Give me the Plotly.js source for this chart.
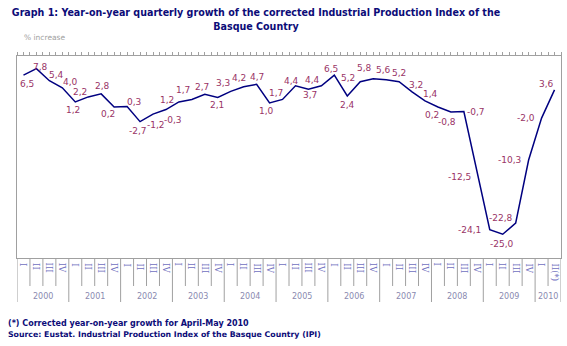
<!DOCTYPE html>
<html>
<head>
<meta charset="utf-8">
<script src="https://cdn.plot.ly/plotly-3.0.1.min.js"></script>
<style>
  html, body { margin: 0; padding: 0; background: #fff; }
  #chart { width: 567px; height: 346px; }
</style>
</head>
<body>
<div id="chart"></div>
<script>
// ---- data ----
const years = ['2000','2001','2002','2003','2004','2005','2006','2007','2008','2009','2010'];
const quartersPerYear = [4,4,4,4,4,4,4,4,4,4,2];
const quarterNames = ['I','II','III','IV'];
const lastQuarterLabel = 'II(*)';
const growth = [6.5, 7.8, 5.4, 4.0,
                1.2, 2.2, 2.8, 0.2,
                0.3, -2.7, -1.2, -0.3,
                1.2, 1.7, 2.7, 2.1,
                3.3, 4.2, 4.7, 1.0,
                1.7, 4.4, 3.7, 4.4,
                6.5, 2.4, 5.2, 5.8,
                5.6, 5.2, 3.2, 1.4,
                0.2, -0.8, -0.7, -12.5,
                -24.1, -25.0, -22.8, -10.3,
                -2.0, 3.6];
const titleText = 'Graph 1: Year-on-year quarterly growth of the corrected Industrial Production Index of the<br>Basque Country';
const yUnitText = '% increase';
const footnote = '(*) Corrected year-on-year growth for April-May 2010';
const sourceText = 'Source: Eustat. Industrial Production Index of the Basque Country (IPI)';

// ---- label offsets (style: pixel shifts of each value label, dx right, dy down) ----
const labelOffsets = [
  [4,9],[4,-2],[7,-6],[8,-6],
  [-2,8],[-8,-5],[1,-8],[-6,7],
  [7,-5],[-2,9],[3,11],[7,10],
  [-12,-2],[-9,-9],[-3,-7],[-1,8],
  [-8,-8],[-5,-9],[0,-7],[-3,8],
  [-7,-6],[-4,-5],[2,6],[-9,-6],
  [-3,-6.5],[0,9.5],[-12,-3.5],[-9,-11],
  [-3,-10],[0,-9],[4,-6.5],[5,-7],
  [-6,7.5],[-4,9.5],[12,0],[-17,6],
  [-20,0],[-1,10],[-15,-5],[-19,0],
  [-16,0],[-8,-6]
];

// ---- build categories ----
const categories = [];
const quarterLabels = [];
const yearStart = [];
years.forEach((y, yi) => {
  yearStart.push(categories.length);
  for (let q = 0; q < quartersPerYear[yi]; q++) {
    categories.push(y + ' ' + quarterNames[q]);
    quarterLabels.push(quarterNames[q]);
  }
});
quarterLabels[quarterLabels.length - 1] = lastQuarterLabel;
const n = categories.length;
const idx = categories.map((c, i) => i);

const plotH = 346 - 56 - 88;
const pxToPaper = px => px / plotH;

const lineColor = '#a0a0a0';
const navy = '#0c0c78';

const traces = [
  {
    x: categories, y: growth, type: 'scatter', mode: 'lines',
    line: { color: '#000080', width: 1.5 },
    hoverinfo: 'skip', showlegend: false
  },
  {
    x: idx, y: growth, xaxis: 'x2', type: 'scatter', mode: 'markers',
    marker: { opacity: 0, size: 1 }, hoverinfo: 'skip', showlegend: false
  }
];

const annotations = [];
growth.forEach((v, i) => {
  annotations.push({
    x: categories[i], y: v, xref: 'x', yref: 'y',
    text: v.toFixed(1).replace('.', ','),
    showarrow: false, xanchor: 'center', yanchor: 'middle',
    xshift: labelOffsets[i][0], yshift: -labelOffsets[i][1],
    font: { family: 'Verdana, DejaVu Sans', size: 9, color: '#993366' }
  });
});
quarterLabels.forEach((q, i) => {
  annotations.push({
    x: i, y: -pxToPaper(3), xref: 'x', yref: 'paper',
    text: q, textangle: 90, showarrow: false,
    xanchor: 'center', yanchor: 'top',
    font: { family: 'DejaVu Serif', size: 8.5, color: '#7070c0' }
  });
});
years.forEach((y, yi) => {
  const c = yearStart[yi] + (quartersPerYear[yi] - 1) / 2;
  annotations.push({
    x: c, y: -pxToPaper(38), xref: 'x', yref: 'paper',
    text: y, showarrow: false, xanchor: 'center', yanchor: 'middle',
    font: { family: 'DejaVu Sans', size: 8, color: '#8a8ab0' }
  });
});
annotations.push({
  x: 22, y: 38, xref: 'paper', yref: 'paper', text: yUnitText, showarrow: false,
  xanchor: 'left', yanchor: 'middle',
  font: { family: 'DejaVu Sans', size: 7.5, color: '#a0a0a0' }
});
annotations.push({
  x: 6, y: 323, text: '<b>' + footnote + '</b>', showarrow: false,
  xanchor: 'left', yanchor: 'middle',
  font: { family: 'DejaVu Sans', size: 8, color: navy }
});
annotations.push({
  x: 6, y: 334, text: '<b>' + sourceText + '</b>', showarrow: false,
  xanchor: 'left', yanchor: 'middle',
  font: { family: 'DejaVu Sans', size: 7.8, color: navy }
});
// convert pixel-placed page texts to paper coordinates
const plotW = 567 - 17 - 6;
annotations.slice(-3).forEach(a => {
  a.xref = 'paper'; a.yref = 'paper';
  a.x = (a.x - 17) / plotW;
  a.y = (346 - 88 - a.y) / plotH;
});

const shapes = [];
for (let k = 0; k <= n; k++) {
  const isYear = yearStart.includes(k) || k === n;
  shapes.push({
    type: 'line', xref: 'x', yref: 'paper',
    x0: k - 0.5, x1: k - 0.5, y0: 0, y1: -pxToPaper(isYear ? 44 : 28),
    line: { color: lineColor, width: 1 }
  });
}

const layout = {
  width: 567, height: 346,
  margin: { l: 17, r: 6, t: 56, b: 88, pad: 0 },
  paper_bgcolor: '#ffffff', plot_bgcolor: '#ffffff',
  showlegend: false,
  title: {
    text: '<b>' + titleText + '</b>',
    x: 256 / 567, xanchor: 'center', xref: 'container',
    y: 1 - 16 / 346, yanchor: 'top', yref: 'container',
    font: { family: 'DejaVu Sans Condensed, DejaVu Sans', size: 10.6, color: navy }
  },
  xaxis: {
    type: 'category', range: [-0.5, n - 0.5],
    showline: true, linecolor: lineColor, linewidth: 1, mirror: false,
    showgrid: false, zeroline: false, showticklabels: false, ticks: '',
    fixedrange: true
  },
  xaxis2: {
    overlaying: 'x', side: 'top', anchor: 'y', type: 'linear',
    range: [-0.5, n - 0.5], tick0: -0.5, dtick: 0.5,
    ticks: 'outside', ticklen: 3, tickcolor: lineColor, tickwidth: 1,
    showline: true, linecolor: lineColor, linewidth: 1,
    showgrid: false, zeroline: false, showticklabels: false
  },
  yaxis: {
    range: [-29.7, 10.3],
    showline: true, linecolor: lineColor, linewidth: 1, mirror: true,
    showgrid: false, zeroline: false, showticklabels: false, ticks: '',
    fixedrange: true
  },
  annotations: annotations,
  shapes: shapes
};

Plotly.newPlot('chart', traces, layout, { displayModeBar: false, staticPlot: true });
</script>
</body>
</html>
